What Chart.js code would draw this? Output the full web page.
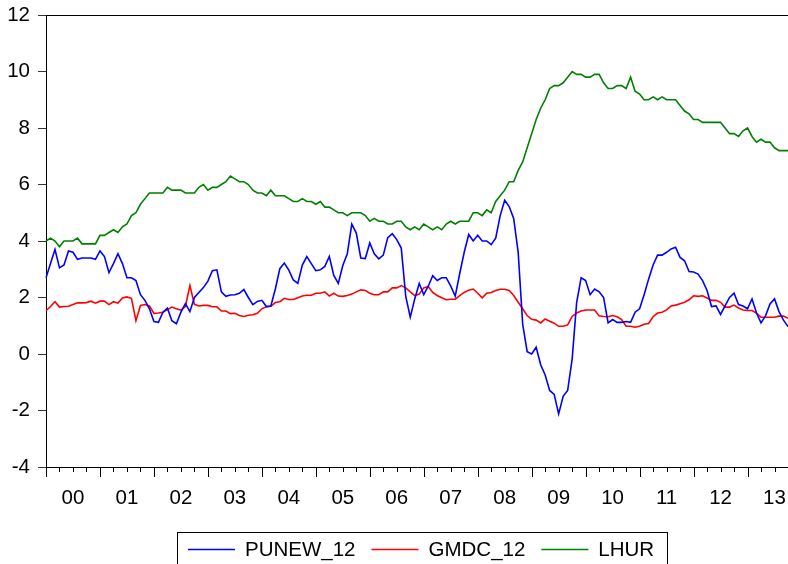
<!DOCTYPE html>
<html>
<head>
<meta charset="utf-8">
<script src="https://cdn.jsdelivr.net/npm/chart.js@4/dist/chart.umd.min.js"></script>
<style>
  html, body { margin: 0; padding: 0; background: #fff; overflow: hidden; }
  canvas { display: block; }
</style>
</head>
<body>
<canvas id="chart" width="788" height="564"></canvas>
<script>
// Year labels on the time axis (2000 .. 2013); the last year runs to October.
const years = ['00', '01', '02', '03', '04', '05', '06', '07', '08', '09', '10', '11', '12', '13'];
const monthsInLastYear = 10;

// CPI inflation, 12-month change (%)
const PUNEW_12 = [
  2.70, 3.20, 3.70, 3.05, 3.15, 3.65, 3.60, 3.35, 3.40, 3.40, 3.40, 3.35,
  3.65, 3.45, 2.88, 3.20, 3.55, 3.20, 2.70, 2.70, 2.60, 2.10, 1.90, 1.60,
  1.15, 1.12, 1.48, 1.62, 1.18, 1.07, 1.48, 1.78, 1.50, 2.00, 2.18, 2.35,
  2.58, 2.95, 2.98, 2.20, 2.04, 2.09, 2.10, 2.15, 2.28, 2.00, 1.75, 1.86,
  1.90, 1.68, 1.70, 2.30, 3.02, 3.22, 2.97, 2.62, 2.50, 3.15, 3.45, 3.20,
  2.95, 2.98, 3.10, 3.45, 2.78, 2.50, 3.13, 3.55, 4.60, 4.28, 3.40, 3.38,
  3.93, 3.55, 3.37, 3.50, 4.12, 4.26, 4.05, 3.75, 2.04, 1.30, 1.95, 2.50,
  2.10, 2.40, 2.77, 2.60, 2.70, 2.70, 2.40, 2.05, 2.85, 3.60, 4.23, 4.00,
  4.20, 4.00, 4.00, 3.87, 4.10, 4.90, 5.44, 5.22, 4.80, 3.60, 1.06, 0.08,
  0.00, 0.24, -0.38, -0.74, -1.29, -1.43, -2.12, -1.50, -1.29, -0.18, 1.82, 2.70,
  2.60, 2.10, 2.30, 2.20, 2.00, 1.10, 1.22, 1.12, 1.12, 1.15, 1.12, 1.48,
  1.60, 2.10, 2.65, 3.15, 3.50, 3.50, 3.60, 3.72, 3.78, 3.42, 3.30, 2.92,
  2.90, 2.83, 2.60, 2.25, 1.68, 1.70, 1.40, 1.70, 2.00, 2.15, 1.75, 1.70,
  1.60, 1.95, 1.45, 1.10, 1.35, 1.77, 1.95, 1.50, 1.20, 0.97
];

// PCE deflator inflation, 12-month change (%)
const GMDC_12 = [
  1.53, 1.68, 1.85, 1.66, 1.68, 1.69, 1.75, 1.81, 1.81, 1.82, 1.87, 1.80,
  1.87, 1.87, 1.75, 1.85, 1.80, 1.98, 2.02, 1.97, 1.18, 1.72, 1.75, 1.70,
  1.44, 1.45, 1.48, 1.57, 1.66, 1.60, 1.55, 1.68, 2.42, 1.76, 1.70, 1.72,
  1.72, 1.67, 1.67, 1.52, 1.52, 1.43, 1.44, 1.36, 1.33, 1.37, 1.39, 1.44,
  1.60, 1.67, 1.69, 1.82, 1.85, 1.97, 1.93, 1.93, 1.99, 2.05, 2.08, 2.08,
  2.15, 2.15, 2.20, 2.05, 2.15, 2.05, 2.04, 2.07, 2.12, 2.20, 2.27, 2.25,
  2.15, 2.10, 2.10, 2.20, 2.20, 2.34, 2.34, 2.42, 2.34, 2.20, 2.07, 2.12,
  2.34, 2.39, 2.18, 2.07, 1.99, 1.92, 1.94, 1.94, 2.07, 2.18, 2.26, 2.30,
  2.15, 1.99, 2.15, 2.18, 2.25, 2.29, 2.29, 2.25, 2.07, 1.83, 1.60, 1.36,
  1.23, 1.20, 1.10, 1.24, 1.16, 1.09, 0.98, 0.98, 1.03, 1.33, 1.45, 1.52,
  1.56, 1.56, 1.56, 1.35, 1.33, 1.32, 1.36, 1.32, 1.22, 0.98, 0.98, 0.95,
  0.98, 1.05, 1.08, 1.32, 1.45, 1.48, 1.56, 1.70, 1.73, 1.78, 1.83, 1.92,
  2.06, 2.04, 2.06, 1.98, 1.90, 1.90, 1.83, 1.66, 1.66, 1.73, 1.63, 1.56,
  1.54, 1.54, 1.45, 1.30, 1.30, 1.30, 1.30, 1.34, 1.34, 1.26
];

// Civilian unemployment rate (%)
const LHUR = [
  4.0, 4.1, 4.0, 3.8, 4.0, 4.0, 4.0, 4.1, 3.9, 3.9, 3.9, 3.9,
  4.2, 4.2, 4.3, 4.4, 4.3, 4.5, 4.6, 4.9, 5.0, 5.3, 5.5, 5.7,
  5.7, 5.7, 5.7, 5.9, 5.8, 5.8, 5.8, 5.7, 5.7, 5.7, 5.9, 6.0,
  5.8, 5.9, 5.9, 6.0, 6.1, 6.3, 6.2, 6.1, 6.1, 6.0, 5.8, 5.7,
  5.7, 5.6, 5.8, 5.6, 5.6, 5.6, 5.5, 5.4, 5.4, 5.5, 5.4, 5.4,
  5.3, 5.4, 5.2, 5.2, 5.1, 5.0, 5.0, 4.9, 5.0, 5.0, 5.0, 4.9,
  4.7, 4.8, 4.7, 4.7, 4.6, 4.6, 4.7, 4.7, 4.5, 4.4, 4.5, 4.4,
  4.6, 4.5, 4.4, 4.5, 4.4, 4.6, 4.7, 4.6, 4.7, 4.7, 4.7, 5.0,
  5.0, 4.9, 5.1, 5.0, 5.4, 5.6, 5.8, 6.1, 6.1, 6.5, 6.8, 7.3,
  7.8, 8.3, 8.7, 9.0, 9.4, 9.5, 9.5, 9.6, 9.8, 10.0, 9.9, 9.9,
  9.8, 9.8, 9.9, 9.9, 9.6, 9.4, 9.4, 9.5, 9.5, 9.4, 9.8, 9.3,
  9.2, 9.0, 9.0, 9.1, 9.0, 9.1, 9.0, 9.0, 9.0, 8.8, 8.6, 8.5,
  8.3, 8.3, 8.2, 8.2, 8.2, 8.2, 8.2, 8.0, 7.8, 7.8, 7.7, 7.9,
  8.0, 7.7, 7.5, 7.6, 7.5, 7.5, 7.3, 7.2, 7.2, 7.2
];

// Y axis tick values
const yTicks = [-4, -2, 0, 2, 4, 6, 8, 10, 12];

// Monthly category labels, e.g. 2000M01
const months = [];
years.forEach((y, i) => {
  const n = i === years.length - 1 ? monthsInLastYear : 12;
  for (let m = 1; m <= n; m++) months.push('20' + y + 'M' + String(m).padStart(2, '0'));
});

const FONT_FAMILY = '"Liberation Sans", Arial, Helvetica, sans-serif';
const FONT_SIZE = 20.5;

// Time-axis tick marks: long at each year start, short at each quarter
const timeTicks = {
  id: 'timeTicks',
  afterDraw(chart) {
    const { ctx, chartArea } = chart;
    const xs = chart.scales.x;
    ctx.save();
    ctx.strokeStyle = '#000';
    ctx.lineWidth = 1;
    ctx.beginPath();
    // top frame line
    ctx.moveTo(chartArea.left, Math.round(chartArea.top) + 0.5);
    ctx.lineTo(chartArea.right, Math.round(chartArea.top) + 0.5);
    for (let i = 0; i < months.length; i += 3) {
      const x = Math.round(xs.getPixelForValue(i)) + 0.5;
      const len = i % 12 === 0 ? 10 : 5;
      ctx.moveTo(x, chartArea.bottom);
      ctx.lineTo(x, chartArea.bottom + len);
    }
    ctx.stroke();
    ctx.restore();
  }
};

// Boxed legend below the plot
const boxedLegend = {
  id: 'boxedLegend',
  afterDraw(chart) {
    const ctx = chart.ctx;
    const lineLen = 47, gap = 10, spacing = 16, padL = 11, padR = 13;
    const boxLeft = 177, boxTop = 532, yMid = 549.5;
    ctx.save();
    ctx.font = FONT_SIZE + 'px ' + FONT_FAMILY;
    ctx.textBaseline = 'middle';
    ctx.textAlign = 'left';
    const sets = chart.data.datasets;
    let total = padL + padR;
    sets.forEach((ds, i) => {
      total += lineLen + gap + ctx.measureText(ds.label).width + (i < sets.length - 1 ? spacing : 0);
    });
    ctx.strokeStyle = '#000';
    ctx.lineWidth = 1;
    ctx.strokeRect(boxLeft + 0.5, boxTop + 0.5, Math.round(total), 60);
    let x = boxLeft + padL;
    sets.forEach(ds => {
      ctx.strokeStyle = ds.borderColor;
      ctx.lineWidth = 1.5;
      ctx.beginPath();
      ctx.moveTo(x, yMid);
      ctx.lineTo(x + lineLen, yMid);
      ctx.stroke();
      ctx.fillStyle = '#000';
      ctx.fillText(ds.label, x + lineLen + gap, yMid + 1);
      x += lineLen + gap + ctx.measureText(ds.label).width + spacing;
    });
    ctx.restore();
  }
};

const series = (label, data, color) => ({
  label, data,
  borderColor: color,
  backgroundColor: color,
  borderWidth: 1.6,
  pointRadius: 0,
  pointHoverRadius: 0,
  tension: 0,
  fill: false
});

new Chart(document.getElementById('chart'), {
  type: 'line',
  data: {
    labels: months,
    datasets: [
      series('PUNEW_12', PUNEW_12, '#0000FF'),
      series('GMDC_12', GMDC_12, '#FF0000'),
      series('LHUR', LHUR, '#008000')
    ]
  },
  options: {
    responsive: false,
    animation: false,
    devicePixelRatio: 1,
    layout: { autoPadding: false, padding: { left: 0, right: 0, top: 15, bottom: 60 } },
    plugins: {
      legend: { display: false },
      tooltip: { enabled: false }
    },
    scales: {
      x: {
        type: 'category',
        offset: false,
        grid: { display: false, drawTicks: false },
        border: { display: true, color: '#000', width: 1 },
        ticks: {
          autoSkip: false,
          maxRotation: 0,
          minRotation: 0,
          padding: 19,
          color: '#000',
          font: { family: FONT_FAMILY, size: FONT_SIZE },
          callback: (v, i) => (i % 12 === 6 ? years[Math.floor(i / 12)] : '')
        },
        afterFit: s => {
          s.height = 37;
          s.paddingLeft = 0; s.paddingRight = 0; s.paddingTop = 0; s.paddingBottom = 0;
        }
      },
      y: {
        min: -4,
        max: 12,
        afterBuildTicks: s => { s.ticks = yTicks.map(v => ({ value: v })); },
        grid: { display: true, drawOnChartArea: false, drawTicks: true, tickLength: 8, color: '#333', lineWidth: 1 },
        border: { display: true, color: '#000', width: 1 },
        ticks: {
          padding: 8,
          color: '#000',
          font: { family: FONT_FAMILY, size: FONT_SIZE }
        },
        afterFit: s => {
          s.width = 46;
          s.paddingLeft = 0; s.paddingRight = 0; s.paddingTop = 0; s.paddingBottom = 0;
        }
      }
    }
  },
  plugins: [timeTicks, boxedLegend]
});
</script>
</body>
</html>
